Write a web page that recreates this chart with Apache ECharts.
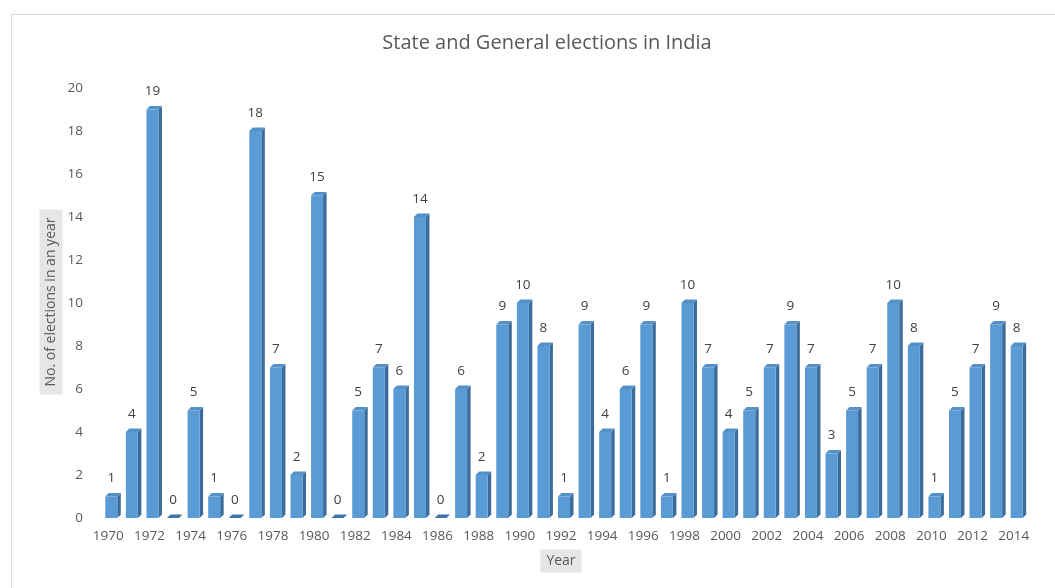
<!DOCTYPE html>
<html>
<head>
<meta charset="utf-8">
<script src="https://cdn.jsdelivr.net/npm/echarts@6/dist/echarts.min.js"></script>
<style>
html,body{margin:0;padding:0;background:#fff;}
#chart{width:1055px;height:588px;}
</style>
</head>
<body>
<div id="chart"></div>
<script>
const years = ['1970','1971','1972','1973','1974','1975','1976','1977','1978','1979',
  '1980','1981','1982','1983','1984','1985','1986','1987','1988','1989',
  '1990','1991','1992','1993','1994','1995','1996','1997','1998','1999',
  '2000','2001','2002','2003','2004','2005','2006','2007','2008','2009',
  '2010','2011','2012','2013','2014'];
const elections = [1,4,19,0,5,1,0,18,7,2,
  15,0,5,7,6,14,0,6,2,9,
  10,8,1,9,4,6,9,1,10,7,
  4,5,7,9,7,3,5,7,10,8,
  1,5,7,9,8];
const titleText = 'State and General elections in India';
const yAxisTitle = 'No. of elections in an year';
const xAxisTitle = 'Year';

const FONT = '"Open Sans", sans-serif';
const chart = echarts.init(document.getElementById('chart'));

function renderBar(params, api) {
  const idx = api.value(0), v = api.value(1);
  const top = api.coord([idx, v]);
  const base = api.coord([idx, 0]);
  const cx = top[0];
  const w = 12, d = 3.5;
  const x0 = cx - 3, x1 = x0 + w;
  const yt = top[1], yb = base[1];
  return {
    type: 'group',
    children: [
      { type: 'polygon', shape: { points: [[x1, yt], [x1 + d, yt - d], [x1 + d, yb - d], [x1, yb]] },
        style: { fill: '#3b6c9c' } },
      { type: 'rect', shape: { x: x0, y: yt, width: w, height: Math.max(yb - yt, 0) },
        style: { fill: '#5b9bd5' } },
      { type: 'polygon', shape: { points: [[x0, yt], [x1, yt], [x1 + d, yt - d], [x0 + d, yt - d]] },
        style: { fill: v === 0 ? '#3f74a8' : '#5591c9' } },
      { type: 'text', x: cx + 3, y: yt - 18,
        style: { text: String(v), align: 'center', verticalAlign: 'middle',
          fontFamily: FONT, fontSize: 13.5, fill: '#404040' } }
    ]
  };
}

chart.setOption({
  backgroundColor: '#ffffff',
  animation: false,
  grid: { left: 98, right: 31, top: 88, bottom: 70 },
  xAxis: {
    type: 'category',
    data: years,
    axisLine: { show: false },
    axisTick: { show: false },
    axisLabel: { interval: 1, margin: 11, color: '#595959', fontFamily: FONT, fontSize: 13.5 }
  },
  yAxis: {
    type: 'value',
    min: 0, max: 20, interval: 2,
    splitLine: { show: false },
    axisLine: { show: false },
    axisTick: { show: false },
    axisLabel: { margin: 15, color: '#595959', fontFamily: FONT, fontSize: 13.5 }
  },
  series: [{
    type: 'custom',
    renderItem: renderBar,
    clip: false,
    data: elections.map((v, i) => [i, v])
  }],
  graphic: [
    { type: 'rect', left: 9, top: 12, z: -10, silent: true,
      shape: { x: 0.5, y: 0.5, width: 1100, height: 700 },
      style: { fill: 'none', stroke: '#d9d9d9', lineWidth: 1 } },
    { type: 'text', x: 547, y: 43,
      style: { text: titleText, align: 'center', verticalAlign: 'middle',
        fontFamily: FONT, fontSize: 20, fill: '#595959' } },
    { type: 'text', x: 51, y: 302, rotation: Math.PI / 2,
      style: { text: yAxisTitle, align: 'center', verticalAlign: 'middle',
        fontFamily: FONT, fontSize: 14, fill: '#595959',
        backgroundColor: '#e7e6e6', padding: [5, 8, 4, 8] } },
    { type: 'text', x: 561, y: 561,
      style: { text: xAxisTitle, align: 'center', verticalAlign: 'middle',
        fontFamily: FONT, fontSize: 14, fill: '#595959',
        backgroundColor: '#e7e6e6', padding: [5, 6, 4, 6] } }
  ]
});
</script>
</body>
</html>
